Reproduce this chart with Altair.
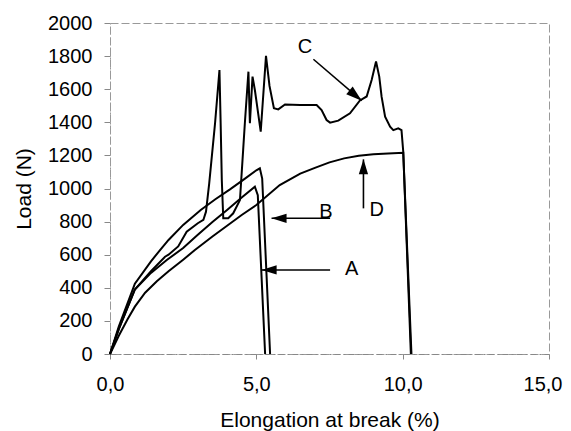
import altair as alt
import pandas as pd

# ---- curve data (Elongation %, Load N) ----
a_x = [0, 0.3, 0.85, 1.4, 1.94, 2.5, 3.0, 3.5, 4.0, 4.5, 4.95, 5.05, 5.30]
a_y = [0, 150, 390, 490, 568, 640, 720, 797, 870, 945, 1011, 960, 0]

b_x = [0, 0.3, 0.85, 1.4, 1.71, 2.0, 2.5, 3.1, 3.6, 4.1, 4.6, 5.0, 5.12, 5.2, 5.47]
b_y = [0, 165, 425, 560, 628, 689, 780, 870, 935, 995, 1058, 1110, 1122, 1060, 0]

c_x = [0, 0.3, 0.85, 1.4, 1.88, 2.0, 2.33, 2.62, 3.0, 3.19, 3.28, 3.39, 3.59, 3.74,
       3.78, 3.82, 3.87, 4.04, 4.21, 4.44, 4.55, 4.61, 4.73, 4.78, 4.87, 4.95, 5.15,
       5.33, 5.45, 5.60, 5.75, 5.98, 6.5, 7.06, 7.23, 7.40, 7.52, 7.80, 8.2, 8.54,
       8.77, 8.94, 9.09, 9.20, 9.28, 9.40, 9.57, 9.68, 9.85, 9.96, 10.02, 10.28]
c_y = [0, 150, 390, 500, 588, 600, 650, 739, 790, 810, 860, 1031, 1395, 1716,
       1400, 1051, 820, 820, 850, 930, 1233, 1400, 1706, 1394, 1676, 1595, 1343,
       1801, 1620, 1485, 1478, 1508, 1505, 1504, 1474, 1414, 1398, 1410, 1454, 1532,
       1556, 1656, 1767, 1676, 1555, 1434, 1373, 1353, 1363, 1353, 1222, 0]

d_x = [0, 0.3, 0.6, 0.85, 1.2, 1.6, 2.0, 2.5, 2.9, 3.5, 4.0, 4.5, 5.0, 5.8, 6.5,
       7.0, 7.5, 8.0, 8.5, 9.0, 9.5, 10.02, 10.3]
d_y = [0, 110, 210, 286, 370, 440, 500, 570, 628, 710, 775, 840, 900, 1021, 1090,
       1125, 1158, 1182, 1198, 1207, 1212, 1216, 0]

# ---- annotations ----
arrow_label = ["A", "B", "C", "D"]
arrow_tail_x = [7.52, 7.52, 6.95, 8.66]
arrow_tail_y = [508, 820, 1781, 880]
arrow_tip_x = [5.18, 5.52, 8.60, 8.66]
arrow_tip_y = [508, 820, 1531, 1176]
label_x = [8.26, 7.38, 6.66, 9.11]
label_y = [512, 860, 1857, 870]

x_ticks = [0, 5, 10, 15]
y_ticks = [0, 200, 400, 600, 800, 1000, 1200, 1400, 1600, 1800, 2000]

series = {"A": (a_x, a_y), "B": (b_x, b_y), "C": (c_x, c_y), "D": (d_x, d_y)}
rows = []
for name, (xs, ys) in series.items():
    for i, (xv, yv) in enumerate(zip(xs, ys)):
        rows.append({"curve": name, "x": xv, "y": yv, "i": i})
df = pd.DataFrame(rows)

arrows = pd.DataFrame({
    "label": arrow_label,
    "x0": arrow_tail_x, "y0": arrow_tail_y,
    "x1": arrow_tip_x, "y1": arrow_tip_y,
    "lx": label_x, "ly": label_y,
})

FONT = "Liberation Sans"
xs_ = alt.Scale(domain=[0, 15], nice=False, zero=False)
ys_ = alt.Scale(domain=[0, 2000], nice=False)

x_axis = alt.Axis(
    values=x_ticks, labelExpr="replace(format(datum.value, '.1f'), '.', ',')",
    labelFontSize=20, labelFont=FONT, labelColor="black", labelPadding=15,
    labelFlush=False, labelOverlap=False, labelBound=False,
    labelAlign=alt.condition("datum.value == 15", alt.value("right"), alt.value("center")),
    labelOffset=alt.condition("datum.value == 15", alt.value(13), alt.value(0)),
    tickSize=5, tickColor="#888", domainColor="#888",
    domainDash=[6, 3, 2, 3], grid=False,
    title="Elongation at break (%)", titleFont=FONT, titleFontSize=21,
    titleFontWeight="normal", titleColor="black", titleX=219.5, titleY=72,
    titleBaseline="alphabetic",
)
y_axis = alt.Axis(
    values=y_ticks, tickCount=11, format="d", labelFontSize=20, labelFont=FONT,
    labelColor="black", labelPadding=12, labelFlush=False, labelOverlap=False,
    labelBound=False, labelSeparation=0,
    tickSize=6, tickColor="#888",
    domainColor="#999", domainDash=[2, 3], grid=False,
    title="Load (N)", titleFont=FONT, titleFontSize=21, titleFontWeight="normal",
    titleColor="black", titleX=-80, titleY=165.5, titleBaseline="alphabetic",
)

lines = alt.Chart(df).mark_line(color="black", strokeWidth=2).encode(
    x=alt.X("x:Q", scale=xs_, axis=x_axis),
    y=alt.Y("y:Q", scale=ys_, axis=y_axis),
    detail="curve:N",
    order="i:Q",
)

shafts = alt.Chart(arrows).mark_rule(color="black", strokeWidth=1.6).encode(
    x=alt.X("x0:Q", axis=x_axis), y=alt.Y("y0:Q", axis=y_axis),
    x2="x1:Q", y2="y1:Q"
)

HEAD = "M0,-1L-0.62,1L0.62,1Z"
left_heads = alt.Chart(arrows).transform_filter(
    alt.FieldOneOfPredicate(field="label", oneOf=["A", "B"])
).mark_point(shape=HEAD, filled=True, color="black", opacity=1, size=225,
             angle=270, xOffset=7.5).encode(
    x=alt.X("x1:Q", axis=x_axis), y=alt.Y("y1:Q", axis=y_axis))
up_head = alt.Chart(arrows).transform_filter(alt.datum.label == "D").mark_point(
    shape=HEAD, filled=True, color="black", opacity=1, size=225, angle=0,
    yOffset=7.5).encode(x=alt.X("x1:Q", axis=x_axis), y=alt.Y("y1:Q", axis=y_axis))
c_head = alt.Chart(arrows).transform_filter(alt.datum.label == "C").mark_point(
    shape=HEAD, filled=True, color="black", opacity=1, size=256, angle=130,
    xOffset=-6.1, yOffset=-5.1).encode(
    x=alt.X("x1:Q", axis=x_axis), y=alt.Y("y1:Q", axis=y_axis))

labels = alt.Chart(arrows).mark_text(
    font=FONT, fontSize=20, color="black", align="center", baseline="middle"
).encode(x=alt.X("lx:Q", axis=x_axis), y=alt.Y("ly:Q", axis=y_axis),
         text="label:N")

chart = alt.layer(lines, shafts, left_heads, up_head, c_head, labels).properties(
    width=439, height=331,
    autosize=alt.AutoSizeParams(type="none"),
    padding={"left": 102, "top": 15, "right": 14, "bottom": 77},
).configure_view(stroke="#999", strokeDash=[8, 3], strokeWidth=1
).configure_axis(labelOverlap=False)

chart.save("out.html", embed_options={"renderer": "svg", "actions": False})
